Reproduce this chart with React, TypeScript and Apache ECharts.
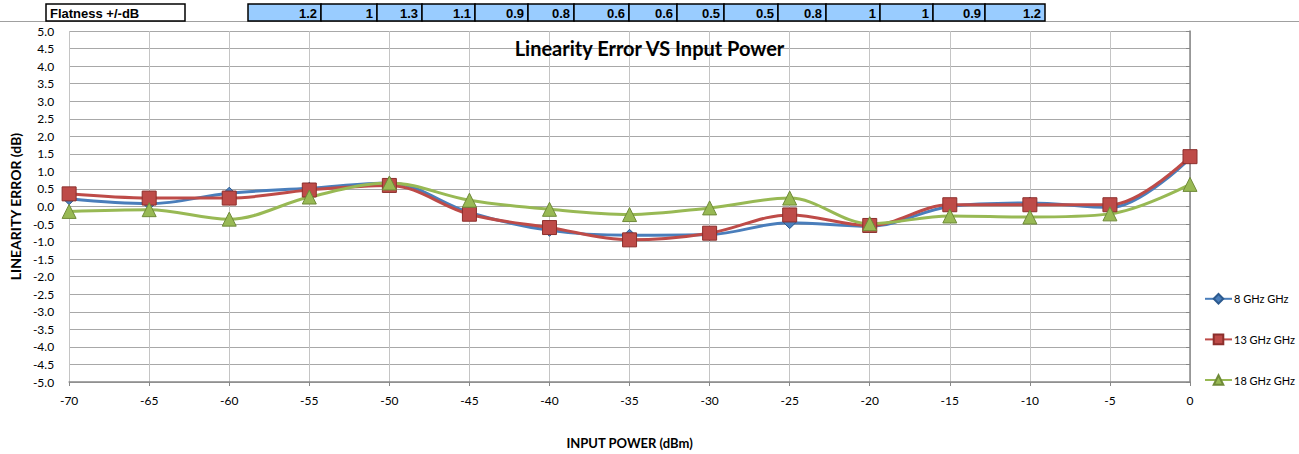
import React, { useEffect, useRef } from "react";
import * as echarts from "echarts";

const inputPower = [-70, -65, -60, -55, -50, -45, -40, -35, -30, -25, -20, -15, -10, -5, 0];
const ghz8 = [0.22, 0.08, 0.38, 0.52, 0.67, -0.17, -0.68, -0.82, -0.8, -0.46, -0.56, 0.0, 0.1, -0.03, 1.38];
const ghz13 = [0.36, 0.24, 0.24, 0.47, 0.6, -0.22, -0.6, -0.95, -0.76, -0.24, -0.54, 0.05, 0.05, 0.05, 1.42];
const ghz18 = [-0.14, -0.09, -0.36, 0.27, 0.67, 0.18, -0.08, -0.23, -0.04, 0.24, -0.49, -0.27, -0.3, -0.21, 0.63];
const seriesNames = ["8 GHz GHz", "13 GHz GHz", "18 GHz GHz"];
const flatness = ["1.2", "1", "1.3", "1.1", "0.9", "0.8", "0.6", "0.6", "0.5", "0.5", "0.8", "1", "1", "0.9", "1.2"];
const flatnessLabel = "Flatness +/-dB";

// table layout (column edges, in px)
const colEdges = [248, 321, 377, 422, 475, 528, 574, 629, 677, 724, 778, 826, 880, 933, 985, 1045];

export default function App() {
  const ref = useRef<HTMLDivElement>(null);
  useEffect(() => {
    const chart = echarts.init(ref.current!, null, { renderer: "svg" });
    const font = "Lato, 'Open Sans', sans-serif";
    const tableTop = 4;
    const tableH = 17;
    const graphics: any[] = [];
    graphics.push({
      type: "line",
      shape: { x1: 0, y1: 21.5, x2: 1299, y2: 21.5 },
      style: { stroke: "#a0a0a0", lineWidth: 1 },
    });
    graphics.push({
      type: "rect",
      shape: { x: 46, y: tableTop, width: 139, height: tableH },
      style: { fill: "#ffffff", stroke: "#000", lineWidth: 1.5 },
    });
    graphics.push({
      type: "text",
      x: 50,
      y: tableTop + tableH / 2 + 1,
      style: { text: flatnessLabel, font: "bold 13px 'Liberation Sans', Arial, sans-serif", fill: "#000", verticalAlign: "middle" },
    });
    flatness.forEach((v, i) => {
      const x0 = colEdges[i];
      const x1 = colEdges[i + 1];
      graphics.push({
        type: "rect",
        shape: { x: x0, y: tableTop, width: x1 - x0, height: tableH },
        style: { fill: "#99ccff", stroke: "#000", lineWidth: 1.5 },
      });
      graphics.push({
        type: "text",
        x: x1 - 4,
        y: tableTop + tableH / 2 + 1,
        style: { text: v, font: "bold 13px 'Liberation Sans', Arial, sans-serif", fill: "#000", align: "right", verticalAlign: "middle" },
      });
    });

    const mk = (name: string, data: number[], color: string, border: string, symbol: string, size: number) => ({
      name,
      type: "line",
      smooth: 0.35,
      data: inputPower.map((x, i) => [x, data[i]]),
      symbol,
      symbolSize: size,
      lineStyle: { color, width: 3 },
      itemStyle: { color, borderColor: border, borderWidth: 1 },
    });

    chart.setOption({
      animation: false,
      backgroundColor: "#ffffff",
      textStyle: { fontFamily: font },
      title: {
        text: "Linearity Error VS Input Power",
        left: "center",
        top: 33,
        textStyle: { fontFamily: font, fontWeight: "bold", fontSize: 20, color: "#000" },
      },
      legend: {
        orient: "vertical",
        left: 1199,
        top: 288,
        itemGap: 29,
        itemWidth: 27,
        itemHeight: 12,
        textStyle: { fontFamily: font, fontSize: 11, color: "#000", padding: [0, 0, 0, -3] },
        data: seriesNames,
      },
      grid: { left: 64, right: 109, top: 31, bottom: 67, containLabel: false },
      xAxis: {
        type: "value",
        min: -70,
        max: 0,
        interval: 5,
        name: "INPUT POWER (dBm)",
        nameLocation: "middle",
        nameGap: 54,
        nameTextStyle: { fontFamily: font, fontWeight: "bold", fontSize: 13, color: "#000" },
        axisLine: { onZero: false, lineStyle: { color: "#888", width: 1.5 } },
        axisTick: { show: true, length: 4, lineStyle: { color: "#888" } },
        axisLabel: { color: "#000", fontSize: 12, margin: 12, fontFamily: font },
        splitLine: { show: true, lineStyle: { color: "#c4c4c4", width: 1 } },
      },
      yAxis: {
        type: "value",
        min: -5,
        max: 5,
        interval: 0.5,
        name: "LINEARITY ERROR (dB)",
        nameLocation: "middle",
        nameGap: 44,
        nameRotate: 90,
        nameTextStyle: { fontFamily: font, fontWeight: "bold", fontSize: 14, color: "#000" },
        axisLine: { show: true, lineStyle: { color: "#888", width: 1.5 } },
        axisTick: { show: true, length: 4, lineStyle: { color: "#888" } },
        axisLabel: { color: "#000", fontSize: 12, margin: 15, fontFamily: font, formatter: (v: number) => v.toFixed(1) },
        splitLine: { show: true, lineStyle: { color: "#a8a8a8", width: 1 } },
      },
      graphic: graphics,
      series: [
        mk(seriesNames[0], ghz8, "#4a7ebb", "#2c5a8f", "diamond", 12),
        mk(seriesNames[1], ghz13, "#be4b48", "#8c2f2c", "rect", 14),
        mk(seriesNames[2], ghz18, "#98b954", "#6f8a38", "triangle", 14),
      ],
    });
    return () => chart.dispose();
  }, []);
  return <div ref={ref} style={{ position: "absolute", left: 0, top: 0, width: 1299, height: 454 }} />;
}
